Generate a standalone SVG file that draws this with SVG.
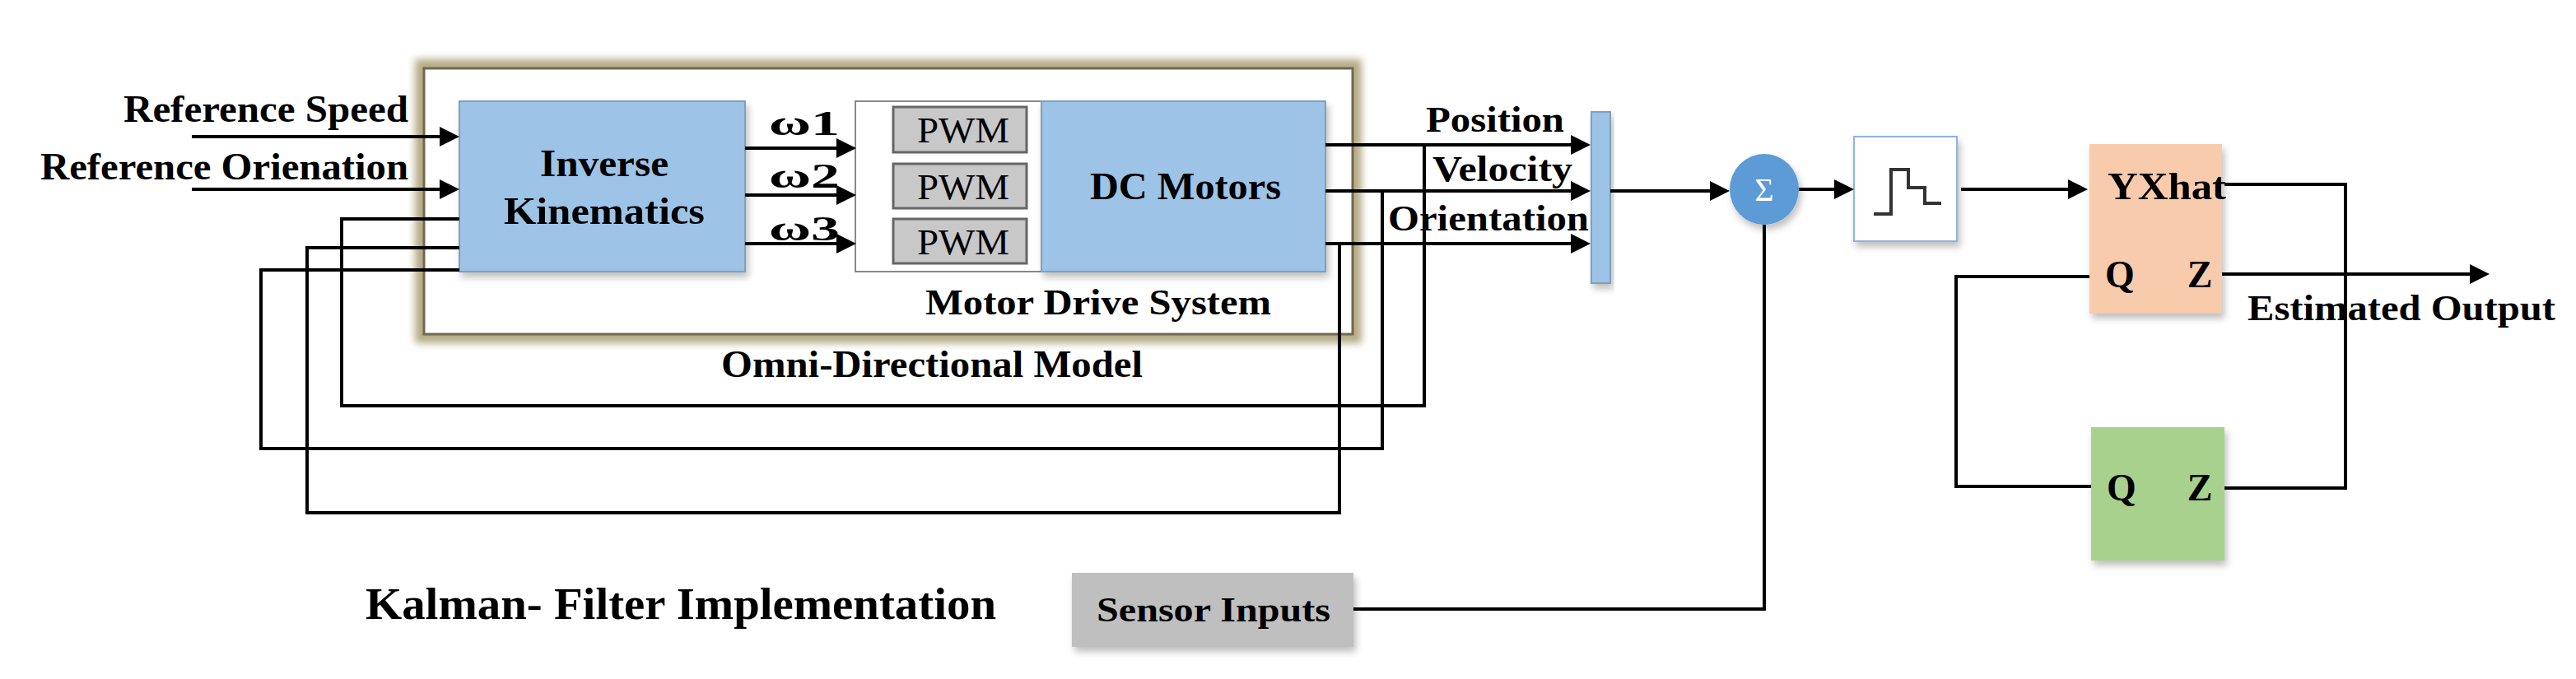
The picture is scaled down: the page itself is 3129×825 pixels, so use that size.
<svg xmlns="http://www.w3.org/2000/svg" width="3129" height="825" viewBox="0 0 3129 825">
<defs>
<marker id="ah" markerWidth="6" markerHeight="6" refX="5" refY="3" orient="auto" markerUnits="strokeWidth"><path d="M0,0 L6,3 L0,6 Z" fill="#000"/></marker>
<filter id="blur" x="-10%" y="-10%" width="120%" height="120%"><feGaussianBlur stdDeviation="5"/></filter>
<filter id="sh" x="-10%" y="-10%" width="130%" height="130%"><feDropShadow dx="3" dy="6" stdDeviation="4" flood-color="#000" flood-opacity="0.25"/></filter>
<style>
.t{font-family:"Liberation Serif","Times New Roman",serif;font-weight:bold;fill:#000}
.r{font-family:"Liberation Serif","Times New Roman",serif;fill:#000}
.w{fill:none;stroke:#000;stroke-width:4}
.a{fill:none;stroke:#000;stroke-width:4;marker-end:url(#ah)}
.blue{fill:#9dc3e6;stroke:#7f9fbf;stroke-width:2}
</style>
</defs>
<rect width="3129" height="825" fill="#fff"/>
<g id="omni">
<rect x="515" y="83" width="1128" height="323" fill="none" stroke="#b5aa85" stroke-width="22" filter="url(#blur)"/>
<rect x="515" y="83" width="1128" height="323" fill="#fff" stroke="#6e6850" stroke-width="3"/>
<text class="t" x="876" y="458" font-size="46" textLength="512" lengthAdjust="spacingAndGlyphs">Omni-Directional Model</text>
</g>
<g id="ik"><rect x="558" y="123" width="347" height="207" class="blue" filter="url(#sh)"/>
<text class="t" x="656" y="214" font-size="46" textLength="156" lengthAdjust="spacingAndGlyphs">Inverse</text>
<text class="t" x="612" y="272" font-size="46" textLength="244" lengthAdjust="spacingAndGlyphs">Kinematics</text></g>
<g id="mds">
<rect x="1039" y="123" width="226" height="207" fill="#fff" stroke="#888" stroke-width="2"/>
<rect x="1085" y="130" width="162" height="55" fill="#c8c8c8" stroke="#666" stroke-width="3"/>
<rect x="1085" y="199" width="162" height="54" fill="#c8c8c8" stroke="#666" stroke-width="3"/>
<rect x="1085" y="266" width="162" height="54" fill="#c8c8c8" stroke="#666" stroke-width="3"/>
<text class="r" x="1114" y="173" font-size="44" textLength="112" lengthAdjust="spacingAndGlyphs">PWM</text>
<text class="r" x="1114" y="242" font-size="44" textLength="112" lengthAdjust="spacingAndGlyphs">PWM</text>
<text class="r" x="1114" y="309" font-size="44" textLength="112" lengthAdjust="spacingAndGlyphs">PWM</text>
<text class="t" x="1124" y="382" font-size="44" textLength="420" lengthAdjust="spacingAndGlyphs">Motor Drive System</text>
</g>
<g id="dc"><rect x="1265" y="123" width="345" height="207" class="blue" filter="url(#sh)"/>
<text class="t" x="1324" y="242" font-size="46" textLength="232" lengthAdjust="spacingAndGlyphs">DC Motors</text></g>
<g id="mux"><rect x="1933" y="136" width="23" height="208" class="blue" filter="url(#sh)"/></g>
<g id="sum"><ellipse cx="2143" cy="230" rx="42" ry="43" fill="#5b9bd5" filter="url(#sh)"/>
<text class="r" x="2143" y="244" font-size="40" style="fill:#fff" text-anchor="middle">Σ</text></g>
<g id="step"><rect x="2252" y="166" width="125" height="127" fill="#fff" stroke="#8eb4e3" stroke-width="2" filter="url(#sh)"/>
<path d="M2276,260 H2297 V206 H2318 V228 H2338 V247 H2358" fill="none" stroke="#333" stroke-width="4"/></g>
<g id="kf1"><rect x="2538" y="175" width="161" height="206" fill="#f8cbad" filter="url(#sh)"/>
<text class="t" x="2560" y="242" font-size="46" textLength="144" lengthAdjust="spacingAndGlyphs">YXhat</text>
<text class="t" x="2575" y="349" font-size="46" text-anchor="middle">Q</text>
<text class="t" x="2672" y="349" font-size="46" text-anchor="middle">Z</text></g>
<g id="kf2"><rect x="2540" y="519" width="162" height="162" fill="#a9d18e" filter="url(#sh)"/>
<text class="t" x="2577" y="608" font-size="46" text-anchor="middle">Q</text>
<text class="t" x="2672" y="608" font-size="46" text-anchor="middle">Z</text></g>
<g id="sensor"><rect x="1302" y="696" width="342" height="90" fill="#bfbfbf" filter="url(#sh)"/>
<text class="t" x="1332" y="755" font-size="42" textLength="284" lengthAdjust="spacingAndGlyphs">Sensor Inputs</text></g>
<g id="connectors">
<path class="a" d="M233,166 H554"/>
<path class="a" d="M233,230 H554"/>
<path class="a" d="M905,180 H1036"/>
<path class="a" d="M905,237 H1036"/>
<path class="a" d="M905,296 H1036"/>
<path class="a" d="M1610,176 H1928"/>
<path class="a" d="M1610,232 H1928"/>
<path class="a" d="M1610,296 H1928"/>
<path class="w" d="M558,266 H415 V493 H1730 V176"/>
<path class="w" d="M558,301 H373 V623 H1627 V296"/>
<path class="w" d="M558,328 H317 V545 H1679 V232"/>
<path class="a" d="M1956,232 H2097"/>
<path class="a" d="M2185,230 H2248"/>
<path class="a" d="M2382,230 H2532"/>
<path class="w" d="M1644,740 H2143 V273"/>
<path class="w" d="M2702,224 H2849 V593 H2702"/>
<path class="w" d="M2540,591 H2376 V336 H2538"/>
<path class="a" d="M2699,333 H3020"/>
</g>
<g id="labels">
<text class="t" x="150" y="148" font-size="46" textLength="346" lengthAdjust="spacingAndGlyphs">Reference Speed</text>
<text class="t" x="49" y="218" font-size="46" textLength="447" lengthAdjust="spacingAndGlyphs">Reference Orienation</text>
<text class="t" x="934" y="164" font-size="42" textLength="86" lengthAdjust="spacingAndGlyphs">ω1</text>
<text class="t" x="934" y="228" font-size="42" textLength="86" lengthAdjust="spacingAndGlyphs">ω2</text>
<text class="t" x="934" y="292" font-size="42" textLength="86" lengthAdjust="spacingAndGlyphs">ω3</text>
<text class="t" x="1732" y="160" font-size="44" textLength="168" lengthAdjust="spacingAndGlyphs">Position</text>
<text class="t" x="1740" y="220" font-size="44" textLength="170" lengthAdjust="spacingAndGlyphs">Velocity</text>
<text class="t" x="1686" y="280" font-size="44" textLength="244" lengthAdjust="spacingAndGlyphs">Orientation</text>
<text class="t" x="2730" y="389" font-size="44" textLength="374" lengthAdjust="spacingAndGlyphs">Estimated Output</text>
<text class="t" x="444" y="752" font-size="54" textLength="766" lengthAdjust="spacingAndGlyphs">Kalman- Filter Implementation</text>
</g>
</svg>
